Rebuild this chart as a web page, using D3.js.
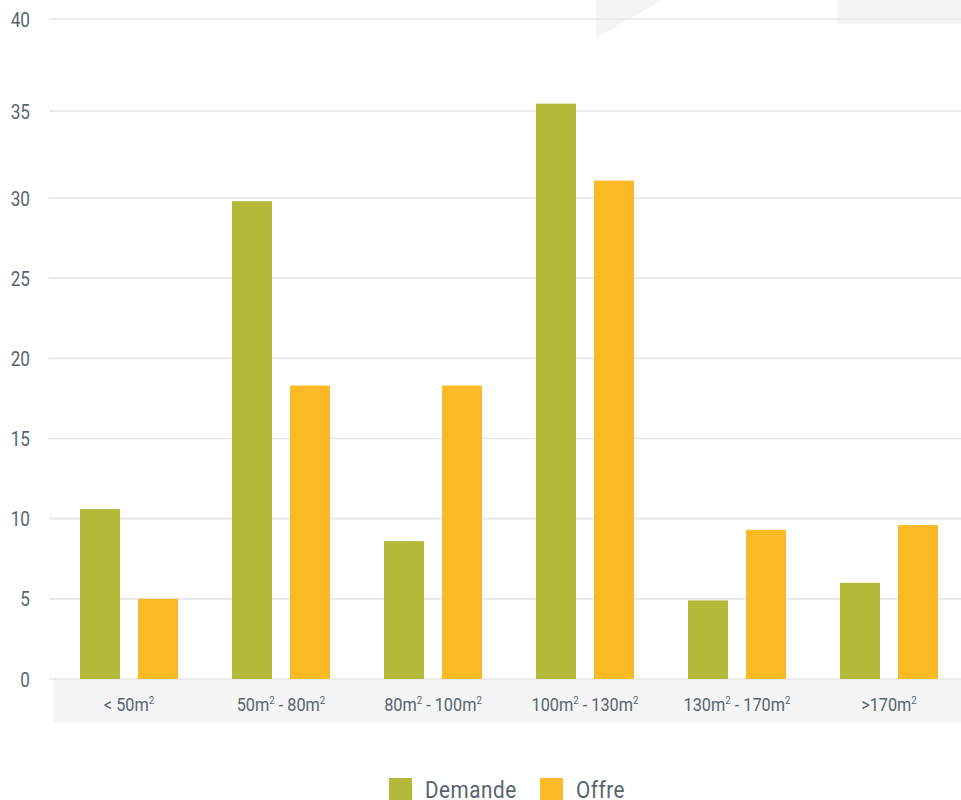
<!DOCTYPE html>
<html>
<head>
<meta charset="utf-8">
<script src="https://cdn.jsdelivr.net/npm/d3@7"></script>
<style>
  html, body { margin: 0; padding: 0; background: #ffffff; }
  svg { display: block; font-family: Roboto, "Noto Sans", sans-serif; }
</style>
</head>
<body>
<svg id="chart" width="961" height="800"></svg>
<script>
// Surface categories and the two series (percent of listings)
const categories = ["< 50m²", "50m² - 80m²", "80m² - 100m²", "100m² - 130m²", "130m² - 170m²", ">170m²"];
const seriesNames = ["Demande", "Offre"];
const demande = [10.6, 29.8, 8.6, 35.4, 4.9, 6.0];
const offre = [5.0, 18.3, 18.3, 31.0, 9.3, 9.6];
const yTicks = [0, 5, 10, 15, 20, 25, 30, 35, 40];
// the value axis is stretched above 30, so the scale is piecewise
const yBreaks = [0, 30, 35, 40];

const colors = { Demande: "#b5b939", Offre: "#fbb926" };
const textColor = "#56646e";
const narrow = 0.88; // horizontal squeeze to get a condensed face

const svg = d3.select("#chart");

// decorative background shapes at the top
svg.append("path")
  .attr("d", "M596,0 L663,0 L596,38 Z")
  .attr("fill", "#f4f4f4");
svg.append("rect")
  .attr("x", 837).attr("y", 0).attr("width", 124).attr("height", 24)
  .attr("fill", "#f5f5f5");

const x0 = d3.scaleBand().domain(categories).range([53, 965]).paddingInner(0).paddingOuter(0);
const x1 = d3.scaleBand().domain(seriesNames).range([0, x0.bandwidth()])
  .paddingInner(0.31).paddingOuter(0.466);
const y = d3.scaleLinear().domain(yBreaks).range([679, 198, 111, 19]);

// category label strip
svg.append("rect")
  .attr("x", 53).attr("y", y(0)).attr("width", 961 - 53).attr("height", 44)
  .attr("fill", "#f5f5f5");

// horizontal grid
svg.append("g").selectAll("line").data(yTicks).join("line")
  .attr("x1", 49).attr("x2", 961)
  .attr("y1", d => y(d)).attr("y2", d => y(d))
  .attr("stroke", "#e6e6e6").attr("stroke-width", 1.6);

// value axis labels
const yAxis = d3.axisLeft(y).tickValues(yTicks).tickSize(0).tickFormat(d3.format("d"));
const gy = svg.append("g").attr("transform", "translate(30,0)").call(yAxis);
gy.select(".domain").remove();
gy.selectAll(".tick text")
  .attr("x", 0).attr("dy", "0.36em")
  .attr("fill", textColor).attr("font-size", 19.5)
  .attr("font-family", "Roboto")
  .attr("text-anchor", "end")
  .attr("transform", `scale(${narrow},1)`);

// bars
const rows = categories.map((c, i) => ({ cat: c, values: [
  { key: "Demande", value: demande[i] },
  { key: "Offre", value: offre[i] }
]}));

const groups = svg.append("g").selectAll("g").data(rows).join("g")
  .attr("transform", d => `translate(${x0(d.cat)},0)`);
groups.selectAll("rect").data(d => d.values).join("rect")
  .attr("x", d => x1(d.key))
  .attr("width", x1.bandwidth())
  .attr("y", d => y(d.value))
  .attr("height", d => y(0) - y(d.value))
  .attr("fill", d => colors[d.key]);

// category labels, with a small raised "2" for square metres
const xAxis = d3.axisBottom(x0).tickSize(0).tickPadding(0).tickFormat(() => "");
const gx = svg.append("g").attr("transform", `translate(0,${y(0)})`).call(xAxis);
gx.select(".domain").remove();
gx.selectAll(".tick text").each(function (d) {
  const t = d3.select(this)
    .attr("y", 32).attr("dy", 0)
    .attr("fill", textColor).attr("font-size", 18.5)
    .attr("font-family", "Roboto")
    .attr("transform", `scale(${narrow},1)`);
  const parts = d.split("²");
  let shift = 0;
  parts.forEach((p, i) => {
    if (p.length) {
      t.append("tspan").attr("dy", shift).text(p);
      shift = 0;
    }
    if (i < parts.length - 1) {
      t.append("tspan").attr("font-size", 11).attr("dy", -7).text("2");
      shift = 7;
    }
  });
});

// legend
const legend = svg.append("g").attr("transform", "translate(389,778)");
const legendItems = legend.selectAll("g").data(seriesNames).join("g")
  .attr("transform", (d, i) => `translate(${i * 151},0)`);
legendItems.append("rect")
  .attr("width", 23).attr("height", 22)
  .attr("fill", d => colors[d]);
legendItems.append("text")
  .attr("transform", `translate(36,19.5) scale(${narrow},1)`)
  .attr("fill", textColor).attr("font-size", 23.5)
  .attr("letter-spacing", 0.6)
  .text(d => d);
</script>
</body>
</html>
